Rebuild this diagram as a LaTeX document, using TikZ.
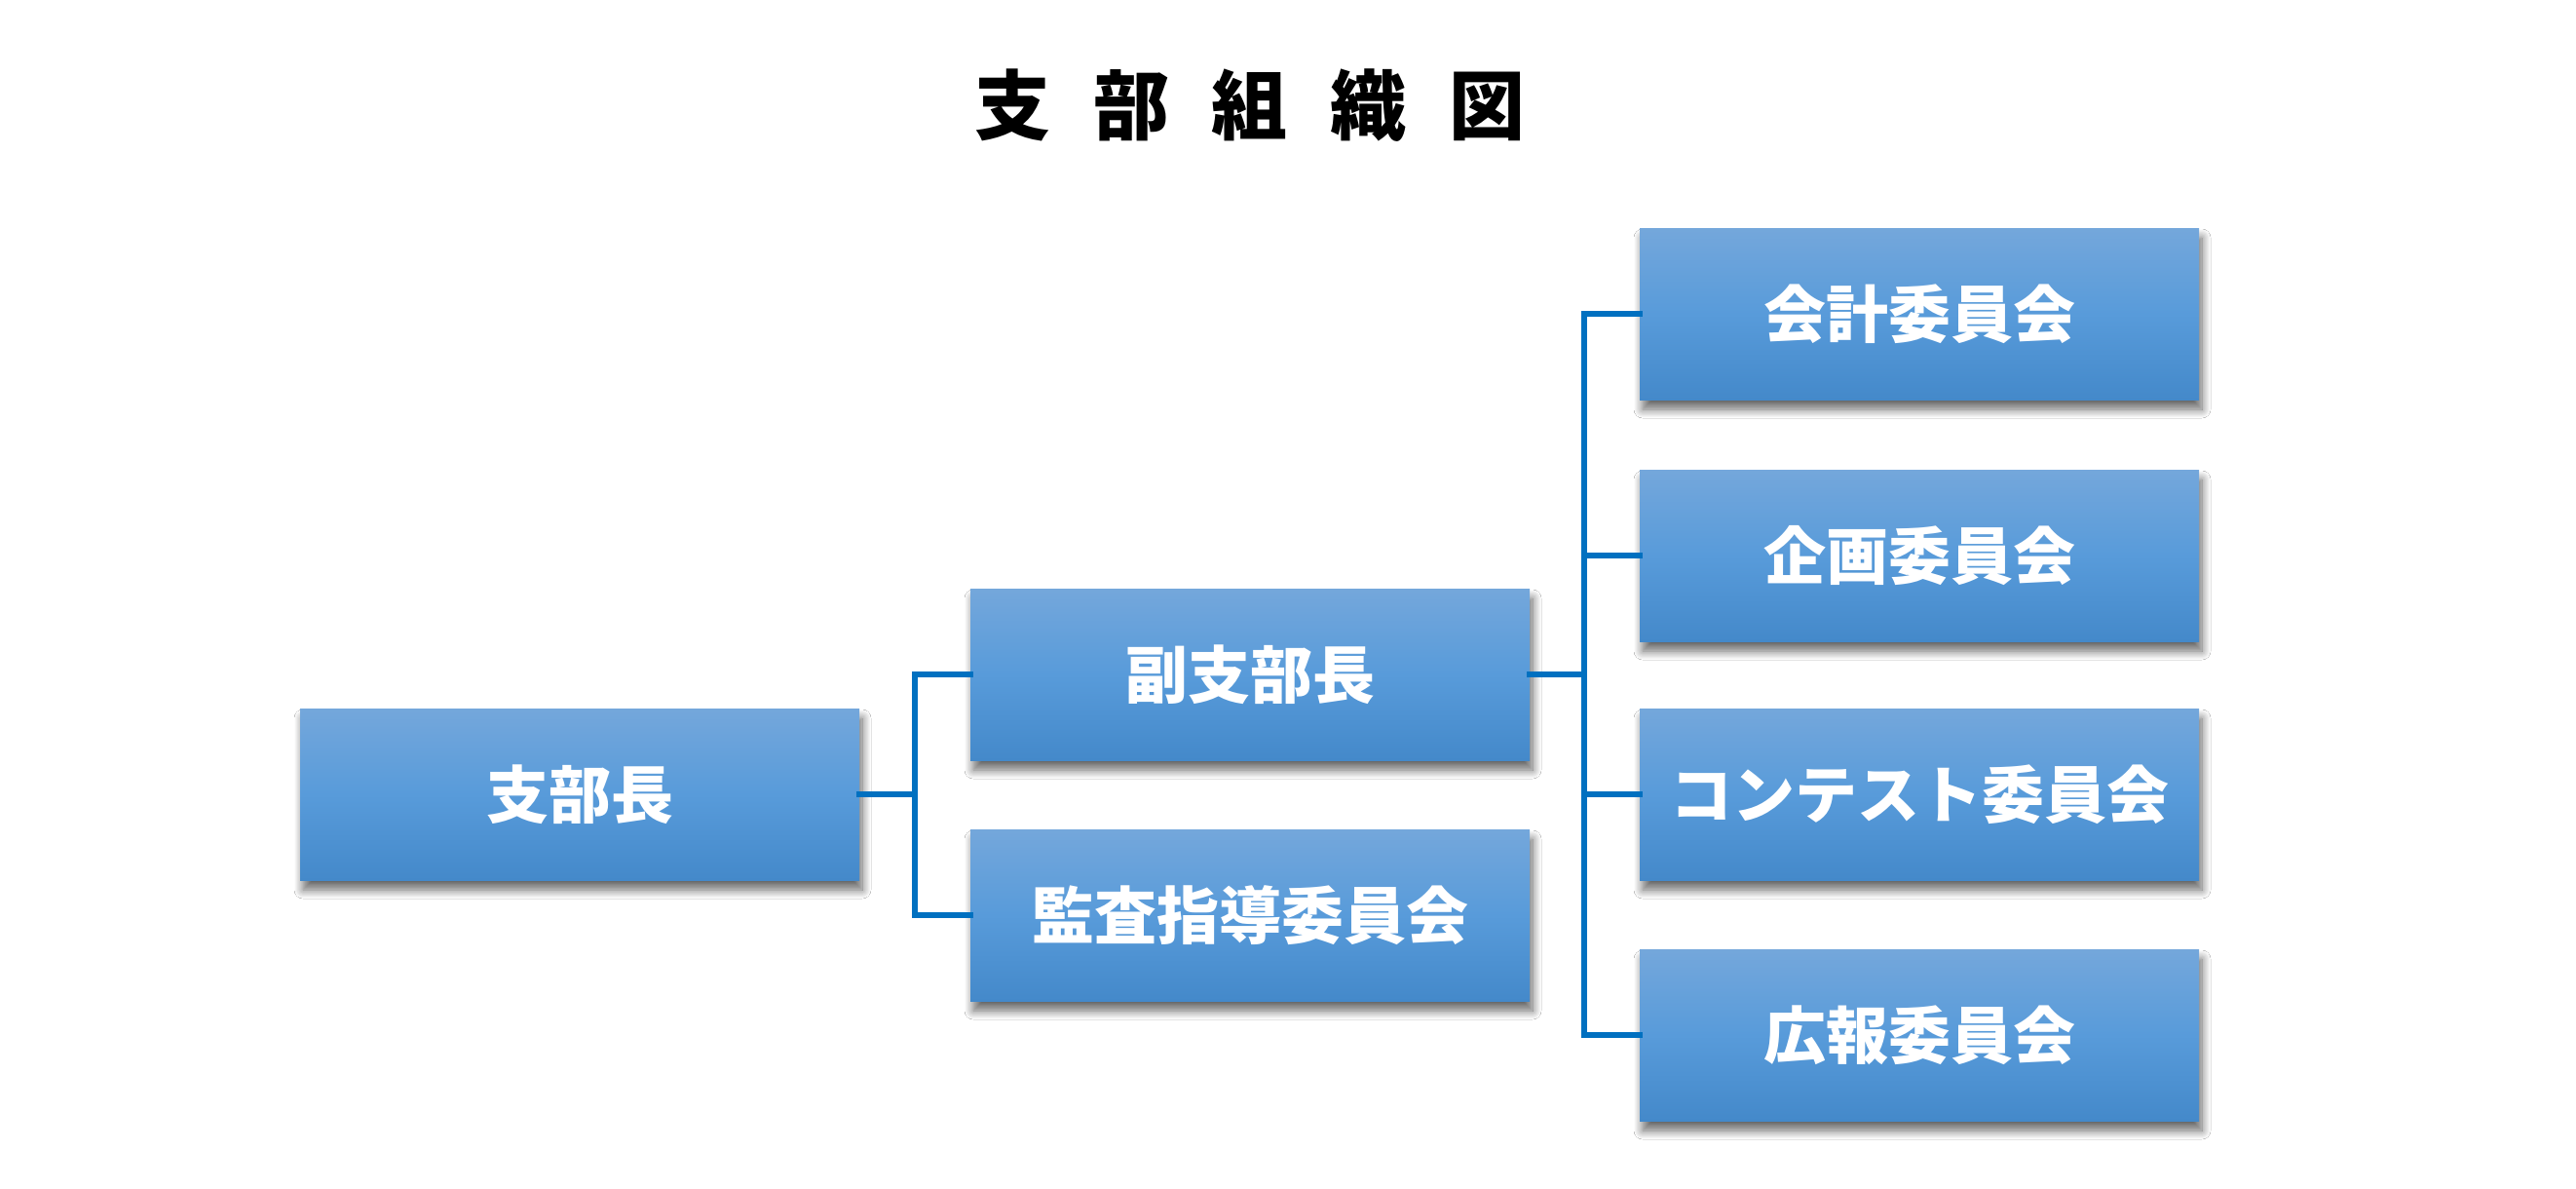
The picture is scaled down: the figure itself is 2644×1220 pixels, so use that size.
\documentclass[tikz,border=0pt]{standalone}
\usepackage{fontspec}
\newfontfamily\jp{Noto Sans CJK JP}
\usetikzlibrary{shadows.blur}
\definecolor{boxtop}{RGB}{116,167,219}
\definecolor{boxmid}{RGB}{88,155,218}
\definecolor{boxbot}{RGB}{68,137,202}
\definecolor{linkc}{RGB}{0,112,192}
\tikzset{
  orgbox/.style={rectangle, minimum width=574pt, minimum height=176pt, inner sep=0pt,
    top color=boxtop, bottom color=boxbot, middle color=boxmid,
    text=white, font=\jp\bfseries\fontsize{64}{72}\selectfont,
    blur shadow={shadow xshift=3pt, shadow yshift=-10pt, shadow blur radius=9pt, shadow blur steps=12, shadow opacity=60}},
  link/.style={draw=linkc, line width=6pt, line cap=rect}
}
\begin{document}
\begin{tikzpicture}[x=1pt,y=-1pt]
\useasboundingbox[fill=white] (0,0) rectangle (2644,1220);
\node (title) at (1283,108) {\jp\bfseries\fontsize{78}{90}\selectfont 支\hspace{44pt}部\hspace{44pt}組\hspace{44pt}織\hspace{44pt}図};
\node[orgbox] (boss) at (595,815) {支部長};
\node[orgbox] (vice) at (1283,692) {副支部長};
\node[orgbox] (audit) at (1283,939) {監査指導委員会};
\node[orgbox] (c1) at (1970,322) {会計委員会};
\node[orgbox] (c2) at (1970,570) {企画委員会};
\node[orgbox] (c3) at (1970,815) {コンテスト委員会};
\node[orgbox] (c4) at (1970,1062) {広報委員会};
\coordinate (j1) at (939,815);
\coordinate (j2) at (1626,692);
\draw[link] (boss.east) -- (j1) |- (vice.west);
\draw[link] (j1) |- (audit.west);
\draw[link] (vice.east) -- (j2) |- (c1.west);
\draw[link] (j2) |- (c2.west);
\draw[link] (j2) |- (c3.west);
\draw[link] (j2) |- (c4.west);
\end{tikzpicture}
\end{document}
